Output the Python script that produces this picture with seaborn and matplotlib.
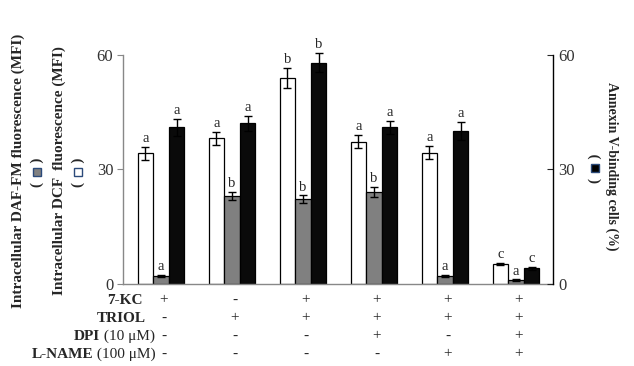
import numpy as np
import pandas as pd
import matplotlib
matplotlib.use("Agg")
import matplotlib.pyplot as plt
import matplotlib.transforms as mtransforms
from matplotlib.patches import Rectangle
import seaborn as sns

# treatment groups (one per cluster of bars)
groups = ["G1", "G2", "G3", "G4", "G5", "G6"]
series = ["DCF", "DAF-FM", "Annexin V"]

dcf = [34.3, 38.2, 54.0, 37.3, 34.4, 5.2]
dcf_err = [1.7, 1.7, 2.7, 1.8, 1.7, 0.3]
daf = [2.1, 23.1, 22.2, 24.0, 2.1, 1.0]
daf_err = [0.3, 1.0, 1.0, 1.3, 0.3, 0.2]
annexin = [41.0, 42.1, 58.0, 41.0, 40.1, 4.1]
annexin_err = [2.2, 1.9, 2.4, 1.8, 2.4, 0.3]

dcf_letters = ["a", "a", "b", "a", "a", "c"]
daf_letters = ["a", "b", "b", "b", "a", "a"]
annexin_letters = ["a", "a", "b", "a", "a", "c"]

row_bold = ["7-KC", "TRIOL", "DPI", "L-NAME"]
row_plain = ["", "", " (10 \u03bcM)", " (100 \u03bcM)"]
kc = ["+", "-", "+", "+", "+", "+"]
triol = ["-", "+", "+", "+", "+", "+"]
dpi_ = ["-", "-", "-", "+", "-", "+"]
lname = ["-", "-", "-", "-", "+", "+"]

yticks = [0, 30, 60]

sns.set_style("white")
plt.rcParams["font.family"] = ["Liberation Serif", "DejaVu Serif"]

df = pd.DataFrame({
    "group": groups * 3,
    "series": [s for s in series for _ in groups],
    "value": dcf + daf + annexin,
})

fig = plt.figure(figsize=(6.34, 3.66), dpi=100)
ax = fig.add_axes([0.194, 0.224, 0.678, 0.626])

palette = {"DCF": "white", "DAF-FM": "#808080", "Annexin V": "#0a0a0a"}
sns.barplot(data=df, x="group", y="value", hue="series", hue_order=series,
            order=groups, palette=palette, width=0.66, edgecolor="black",
            linewidth=0.9, errorbar=None, legend=False, ax=ax, saturation=1)

errs = [dcf_err, daf_err, annexin_err]
vals = [dcf, daf, annexin]
letters = [dcf_letters, daf_letters, annexin_letters]
for cont, v, e, lt in zip(ax.containers, vals, errs, letters):
    xs = [p.get_x() + p.get_width() / 2 for p in cont.patches]
    ax.errorbar(xs, v, yerr=e, fmt="none", ecolor="black", elinewidth=1,
                capsize=3, capthick=1, clip_on=False)
    for x, y, err, t in zip(xs, v, e, lt):
        ax.text(x, y + err + 0.5, t, ha="center", va="bottom", fontsize=10.5)

ax.set_ylim(0, 60)
ax.set_xlim(-0.535, 5.52)
ax.set_yticks(yticks)
ax.set_xticks([])
ax.set_xlabel("")
ax.set_ylabel("")
ax.tick_params(axis="y", direction="out", length=4, color="#888888",
               labelsize=12, labelcolor="#333333", left=True, pad=3)
for s in ["top", "right"]:
    ax.spines[s].set_visible(False)
for s in ["left", "bottom"]:
    ax.spines[s].set_color("#888888")
    ax.spines[s].set_linewidth(1)

ax2 = ax.twinx()
ax2.set_ylim(0, 60)
ax2.set_yticks(yticks)
ax2.tick_params(axis="y", direction="in", length=4, labelsize=12,
                labelcolor="#333333", pad=4)
for s in ["top", "left", "bottom"]:
    ax2.spines[s].set_visible(False)
ax2.spines["right"].set_color("black")
ax2.spines["right"].set_linewidth(1)

# treatment table under the bars
centers = [p.get_x() + p.get_width() / 2 for p in ax.containers[1].patches]
trans = mtransforms.blended_transform_factory(ax.transData, fig.transFigure)
row_y = [1 - 300 / 366, 1 - 318 / 366, 1 - 336 / 366, 1 - 354 / 366]
row_end = [143 / 634, 146 / 634, 155 / 634, 156 / 634]
signs = [kc, triol, dpi_, lname]
fig.canvas.draw()
renderer = fig.canvas.get_renderer()
for yb, xe, b, p, sg in zip(row_y, row_end, row_bold, row_plain, signs):
    xb = xe
    if p:
        t = fig.text(xe, yb, p, ha="right", va="center", fontsize=11)
        bb = t.get_window_extent(renderer).transformed(fig.transFigure.inverted())
        xb = bb.x0
    fig.text(xb, yb, b, ha="right", va="center", fontsize=11, fontweight="bold")
    for cx, s in zip(centers, sg):
        fig.text(cx + 0.04, yb, s, ha="center", va="center", fontsize=11,
                 transform=trans)

# axis titles with symbol keys
fig.text(18 / 634, 1 - 171 / 366, "Intracellular DAF-FM fluorescence (MFI)",
         rotation=90, ha="center", va="center", fontsize=11, fontweight="bold")
fig.text(59 / 634, 1 - 171 / 366, "Intracellular DCF  fluorescence (MFI)",
         rotation=90, ha="center", va="center", fontsize=11, fontweight="bold")
fig.text(612 / 634, 1 - 166 / 366, "Annexin V-binding cells (%)",
         rotation=-90, ha="center", va="center", fontsize=10, fontweight="bold")

keys = [(37, 172, "#808080"), (78, 172, "white"), (595, 168, "black")]
for kx, ky, kc_ in keys:
    fig.text(kx / 634, 1 - ky / 366, "(     )", rotation=90, ha="center",
             va="center", fontsize=11, fontweight="bold")
    w, h = 8 / 634, 8 / 366
    fig.patches.append(Rectangle((kx / 634 - w / 2, 1 - ky / 366 - h / 2), w, h,
                                 transform=fig.transFigure, facecolor=kc_,
                                 edgecolor="#2b4a7a", linewidth=1))

fig.savefig("out.png", dpi=100)
